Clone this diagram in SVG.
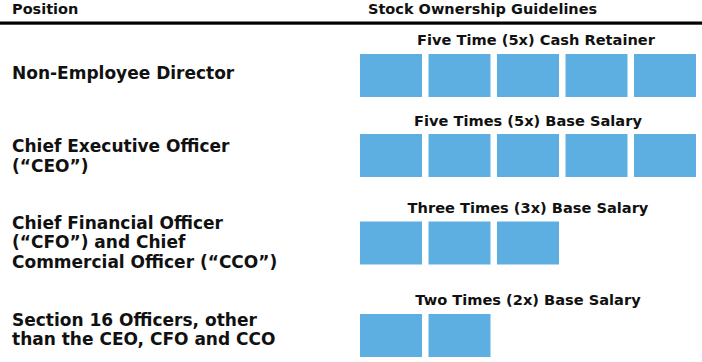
<svg xmlns="http://www.w3.org/2000/svg" width="702" height="362" viewBox="0 0 702 362">
<style>
text{font-family:"DejaVu Sans","Liberation Sans",sans-serif;font-weight:bold;fill:#111;}
.h{font-size:14.5px;}
.p{font-size:17px;}
.l{font-size:14.6px;}
.b{fill:#5EAFE1;}
</style>
<rect width="702" height="362" fill="#fff"/>
<g id="header">
<text class="h" x="12" y="14">Position</text>
<text class="h" x="368" y="14">Stock Ownership Guidelines</text>
<rect x="0" y="21.5" width="702" height="3.2" fill="#000"/>
</g>
<g id="row-director">
<text class="p" x="12" y="79">Non-Employee Director</text>
<text class="l" x="536" y="45" text-anchor="middle">Five Time (5x) Cash Retainer</text>
<rect class="b" x="360" y="54" width="62" height="43"/>
<rect class="b" x="428.5" y="54" width="62" height="43"/>
<rect class="b" x="497" y="54" width="62" height="43"/>
<rect class="b" x="565.5" y="54" width="62" height="43"/>
<rect class="b" x="634" y="54" width="62" height="43"/>
</g>
<g id="row-ceo">
<text class="p" x="12" y="152">Chief Executive Officer</text>
<text class="p" x="12" y="171.5">(“CEO”)</text>
<text class="l" x="528" y="126" text-anchor="middle">Five Times (5x) Base Salary</text>
<rect class="b" x="360" y="134" width="62" height="43"/>
<rect class="b" x="428.5" y="134" width="62" height="43"/>
<rect class="b" x="497" y="134" width="62" height="43"/>
<rect class="b" x="565.5" y="134" width="62" height="43"/>
<rect class="b" x="634" y="134" width="62" height="43"/>
</g>
<g id="row-cfo-cco">
<text class="p" x="12" y="228.5">Chief Financial Officer</text>
<text class="p" x="12" y="248">(“CFO”) and Chief</text>
<text class="p" x="12" y="267.5">Commercial Officer (“CCO”)</text>
<text class="l" x="528" y="213" text-anchor="middle">Three Times (3x) Base Salary</text>
<rect class="b" x="360" y="221.5" width="62" height="43"/>
<rect class="b" x="428.5" y="221.5" width="62" height="43"/>
<rect class="b" x="497" y="221.5" width="62" height="43"/>
</g>
<g id="row-section16">
<text class="p" x="12" y="326">Section 16 Officers, other</text>
<text class="p" x="12" y="344.5">than the CEO, CFO and CCO</text>
<text class="l" x="528" y="305" text-anchor="middle">Two Times (2x) Base Salary</text>
<rect class="b" x="360" y="314" width="62" height="43"/>
<rect class="b" x="428.5" y="314" width="62" height="43"/>
</g>
</svg>
